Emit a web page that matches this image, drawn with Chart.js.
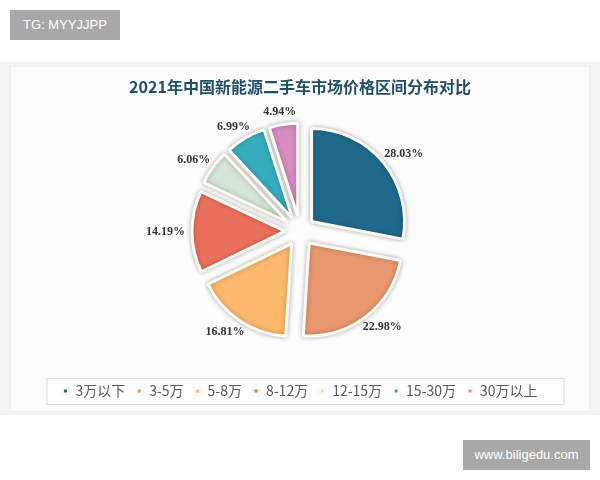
<!DOCTYPE html>
<html>
<head>
<meta charset="utf-8">
<script src="https://cdn.jsdelivr.net/npm/chart.js@4.4.0/dist/chart.umd.min.js"></script>
<style>
    html, body { margin: 0; padding: 0; background: #fff; }
    #page { position: relative; width: 600px; height: 480px; overflow: hidden; }
    .band { position: absolute; left: 0; top: 62px; width: 600px; height: 353px; background: #f3f3f3; }
    .card { position: absolute; left: 10px; top: 66px; width: 578px; height: 344px; background: #fcfcfc; border: 1px solid #eeeeee; }
    .badge { position: absolute; background: #a8a8a8; color: #fff; font-family: "Liberation Sans", Arial, sans-serif; font-size: 13px; text-align: center; }
    #tg { left: 10px; top: 10px; width: 110px; height: 30px; line-height: 30px; }
    #site { left: 463px; top: 440px; width: 127px; height: 30px; line-height: 30px; }
    #wrap { position: absolute; left: 0; top: 0; width: 600px; height: 480px; }
</style>
</head>
<body>
<div id="page">
    <div class="band"></div>
    <div class="card"></div>
    <div class="badge" id="tg">TG: MYYJJPP</div>
    <div class="badge" id="site">www.biligedu.com</div>
    <div id="wrap"><canvas id="pieChart" width="600" height="480"></canvas></div>
</div>
<script>
// --- Data ---
const categories = ['3万以下', '3-5万', '5-8万', '8-12万', '12-15万', '15-30万', '30万以上'];
const shares = [28.03, 22.98, 16.81, 14.19, 6.06, 6.99, 4.94];
const sliceColors = ['#1f6a8c', '#e9976f', '#fdb96b', '#e96f5b', '#d5e4d5', '#36adbe', '#d88cc0'];

const EXPLODE = 15; // every slice pulled out from the centre

// draw the slices pulled apart, with a soft shadow, then the value labels
const sliceDecor = {
    id: 'sliceDecor',
    beforeDatasetDraw(chart, args) {
        const c = chart.ctx;
        c.save();
        c.shadowColor = 'rgba(0, 0, 0, 0.28)';
        c.shadowBlur = 5;
        args.meta.data.forEach(arc => {
            const mid = (arc.startAngle + arc.endAngle) / 2;
            c.save();
            c.translate(Math.cos(mid) * EXPLODE, Math.sin(mid) * EXPLODE);
            arc.draw(c);
            c.restore();
        });
        c.restore();
        return false;
    },
    afterDatasetsDraw(chart) {
        const c = chart.ctx;
        const meta = chart.getDatasetMeta(0);
        c.save();
        c.font = 'bold 12px "Liberation Serif", "DejaVu Serif", serif';
        c.fillStyle = '#333';
        c.textAlign = 'center';
        c.textBaseline = 'middle';
        meta.data.forEach((arc, i) => {
            const p = arc.getProps(['x', 'y', 'startAngle', 'endAngle', 'outerRadius']);
            const mid = (p.startAngle + p.endAngle) / 2;
            const cx = Math.cos(mid), cy = Math.sin(mid);
            const txt = shares[i].toFixed(2) + '%';
            const halfW = c.measureText(txt).width / 2;
            const r = p.outerRadius + EXPLODE + 7;
            c.fillText(txt, p.x + cx * (r + halfW), p.y + cy * (r + 6));
        });
        c.restore();
    }
};

// thin box round the legend
const legendBox = {
    id: 'legendBox',
    beforeDraw(chart) {
        const lg = chart.legend;
        if (!lg || !lg.legendHitBoxes.length) return;
        const hb = lg.legendHitBoxes;
        const left = Math.min(...hb.map(b => b.left)) - 16;
        const right = Math.max(...hb.map(b => b.left + b.width)) + 26;
        const top = hb[0].top + hb[0].height / 2 - 13;
        const c = chart.ctx;
        c.save();
        c.fillStyle = '#ffffff';
        c.strokeStyle = '#dcdcdc';
        c.lineWidth = 1;
        c.fillRect(left, top, right - left, 26);
        c.strokeRect(left + 0.5, top + 0.5, right - left, 26);
        c.restore();
    }
};

new Chart(document.getElementById('pieChart'), {
    type: 'pie',
    data: {
        labels: categories,
        datasets: [{
            data: shares,
            backgroundColor: sliceColors,
            borderColor: '#fdfaf3',
            borderWidth: 3,
            radius: 93
        }]
    },
    options: {
        responsive: false,
        animation: false,
        layout: { padding: { bottom: 72 } },
        plugins: {
            title: {
                display: true,
                text: '2021年中国新能源二手车市场价格区间分布对比',
                color: '#234f66',
                font: { family: '"Noto Sans CJK SC", sans-serif', size: 16, weight: 'bold' },
                padding: { top: 77, bottom: -7 }
            },
            legend: {
                position: 'bottom',
                labels: {
                    boxWidth: 6,
                    boxHeight: 6,
                    padding: 11,
                    color: '#595959',
                    font: { family: '"Noto Sans CJK SC", sans-serif', size: 14 }
                }
            },
            tooltip: { enabled: false }
        }
    },
    plugins: [sliceDecor, legendBox]
});
</script>
</body>
</html>
